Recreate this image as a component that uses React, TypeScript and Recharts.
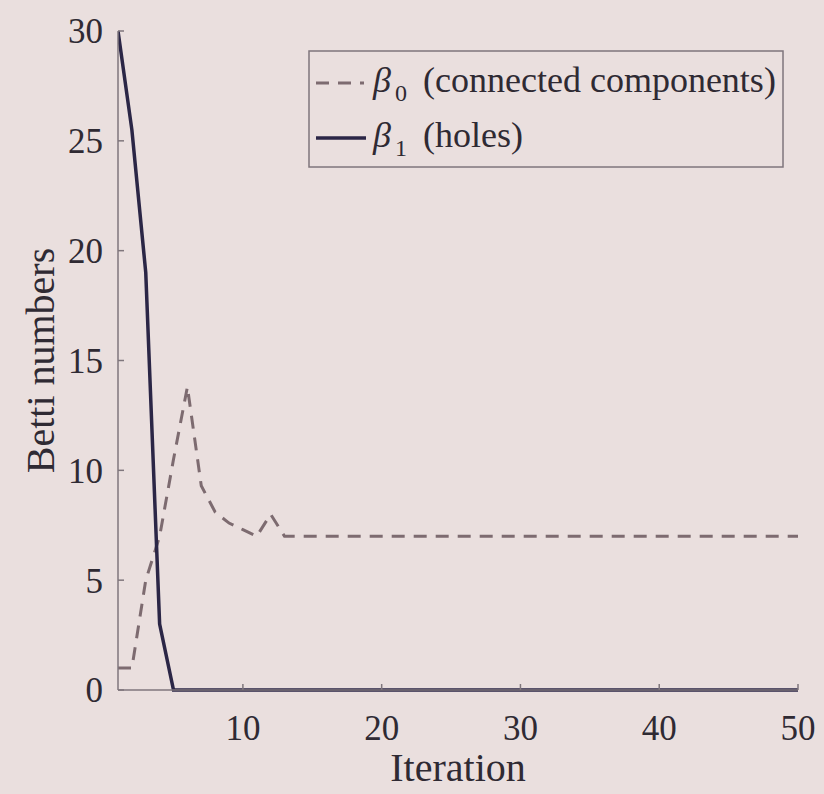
import { LineChart, Line, XAxis, YAxis } from "recharts";

// iteration index (x axis)
const iterations = [
  1, 2, 3, 4, 5, 6, 7, 8, 9, 10,
  11, 12, 13, 14, 15, 16, 17, 18, 19, 20,
  21, 22, 23, 24, 25, 26, 27, 28, 29, 30,
  31, 32, 33, 34, 35, 36, 37, 38, 39, 40,
  41, 42, 43, 44, 45, 46, 47, 48, 49, 50,
];

// beta_0: connected components
const beta0 = [
  1, 1, 5, 7, 10.5, 13.8, 9.3, 8.1, 7.6, 7.3,
  7, 8, 7, 7, 7, 7, 7, 7, 7, 7,
  7, 7, 7, 7, 7, 7, 7, 7, 7, 7,
  7, 7, 7, 7, 7, 7, 7, 7, 7, 7,
  7, 7, 7, 7, 7, 7, 7, 7, 7, 7,
];

// beta_1: holes
const beta1 = [
  30, 25.5, 19, 3, 0, 0, 0, 0, 0, 0,
  0, 0, 0, 0, 0, 0, 0, 0, 0, 0,
  0, 0, 0, 0, 0, 0, 0, 0, 0, 0,
  0, 0, 0, 0, 0, 0, 0, 0, 0, 0,
  0, 0, 0, 0, 0, 0, 0, 0, 0, 0,
];

const xTicks = [10, 20, 30, 40, 50];
const yTicks = [0, 5, 10, 15, 20, 25, 30];

const bg = "#eadfde";
const axisColor = "#7f767c";
const textColor = "#2f2a33";
const solidColor = "#2b2646";
const dashColor = "#7d6b70";
const font = '"Liberation Serif", "Times New Roman", serif';

export default function App() {
  const data = iterations.map((it, i) => ({ it, b0: beta0[i], b1: beta1[i] }));

  return (
    <div style={{ position: "absolute", left: 0, top: 0, width: 824, height: 794, background: bg, fontFamily: font }}>
      <LineChart width={824} height={794} data={data} margin={{ top: 31, right: 26, bottom: 24, left: 38 }}>
        <XAxis
          dataKey="it"
          type="number"
          domain={[1, 50]}
          ticks={xTicks}
          allowDataOverflow
          height={80}
          stroke={axisColor}
          strokeWidth={1.5}
          tickSize={-6}
          tickMargin={31}
          tick={{ fontSize: 35, fill: textColor, fontFamily: font }}
          label={{ value: "Iteration", position: "center", dy: 37, fontSize: 40, fill: textColor, fontFamily: font }}
        />
        <XAxis
          xAxisId="top"
          orientation="top"
          dataKey="it"
          type="number"
          domain={[1, 50]}
          ticks={xTicks}
          height={0}
          stroke={axisColor}
          strokeWidth={1.5}
          tickSize={-6}
          tick={false}
        />
        <YAxis
          type="number"
          domain={[0, 30]}
          ticks={yTicks}
          width={80}
          stroke={axisColor}
          strokeWidth={1.5}
          tickSize={-6}
          tickMargin={21}
          tick={{ fontSize: 35, fill: textColor, fontFamily: font }}
          label={{ value: "Betti numbers", angle: -90, position: "center", dx: -38, fontSize: 40, fill: textColor, fontFamily: font }}
        />
        <YAxis
          yAxisId="right"
          orientation="right"
          type="number"
          domain={[0, 30]}
          ticks={yTicks}
          width={0}
          stroke={axisColor}
          strokeWidth={1.5}
          tickSize={-6}
          tick={false}
        />
        <Line
          type="linear"
          dataKey="b0"
          stroke={dashColor}
          strokeWidth={3}
          strokeDasharray="13 9"
          dot={false}
          isAnimationActive={false}
        />
        <Line
          type="linear"
          dataKey="b1"
          stroke={solidColor}
          strokeWidth={3.5}
          dot={false}
          isAnimationActive={false}
        />
      </LineChart>

      {/* legend box, drawn on top of the plot */}
      <svg width={824} height={794} style={{ position: "absolute", left: 0, top: 0, pointerEvents: "none" }}>
        <rect x={309} y={51} width={474} height={116} fill={bg} stroke={axisColor} strokeWidth={1.5} />
        <line x1={316} y1={83} x2={364} y2={83} stroke={dashColor} strokeWidth={3} strokeDasharray="13 9" />
        <text x={373} y={92} fontSize={36} fill={textColor} fontFamily={font} fontStyle="italic">β</text>
        <text x={395} y={101} fontSize={24} fill={textColor} fontFamily={font}>0</text>
        <text x={423} y={92} fontSize={36} fill={textColor} fontFamily={font}>(connected components)</text>
        <line x1={316} y1={138} x2={366} y2={138} stroke={solidColor} strokeWidth={3.5} />
        <text x={373} y={147} fontSize={36} fill={textColor} fontFamily={font} fontStyle="italic">β</text>
        <text x={395} y={156} fontSize={24} fill={textColor} fontFamily={font}>1</text>
        <text x={423} y={147} fontSize={36} fill={textColor} fontFamily={font}>(holes)</text>
      </svg>
    </div>
  );
}
